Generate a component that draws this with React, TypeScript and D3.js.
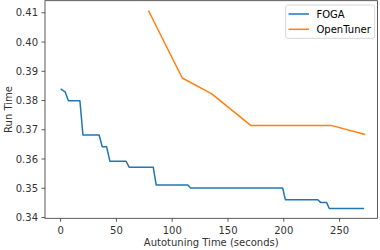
import * as d3 from 'd3';

interface Pt {
  t: number;
  v: number;
}

// FOGA best-so-far run time
const fogaTime = [0, 4, 7, 17.3, 20, 34.5, 37.3, 41.2, 44.2, 58.7, 61.4, 83, 85.7, 114, 116.5, 199, 201.4, 230.5, 233.2, 238.4, 240.8, 272];
const fogaRun = [0.384, 0.383, 0.3799, 0.3799, 0.3682, 0.3682, 0.3642, 0.3642, 0.3592, 0.3592, 0.3572, 0.3572, 0.3511, 0.3511, 0.3501, 0.3501, 0.3461, 0.3461, 0.3451, 0.3451, 0.3431, 0.3431];

// OpenTuner
const otTime = [78.7, 109, 135.5, 170.3, 242.3, 273];
const otRun = [0.4108, 0.3877, 0.3823, 0.3715, 0.3715, 0.3684];

const xTicks = [0, 50, 100, 150, 200, 250];
const yTicks = [0.34, 0.35, 0.36, 0.37, 0.38, 0.39, 0.40, 0.41];

const seriesNames = ['FOGA', 'OpenTuner'];
const colors = ['#1f77b4', '#ff7f0e'];

const toPts = (t: number[], v: number[]): Pt[] => t.map((d, i) => ({ t: d, v: v[i] }));

export default function App() {
  const W = 380;
  const H = 250;
  const left = 45;
  const right = 377.5;
  const top = 0.7;
  const bottom = 218.3;

  const x = d3.scaleLinear().domain([-14, 284]).range([left, right]);
  const y = d3.scaleLinear().domain([0.33973, 0.41414]).range([bottom, top]);

  const line = d3.line<Pt>()
    .x(d => x(d.t))
    .y(d => y(d.v));

  const series = [toPts(fogaTime, fogaRun), toPts(otTime, otRun)];
  const font = 'DejaVu Sans, sans-serif';
  const textColor = '#333';

  return (
    <svg width={W} height={H} style={{ position: 'absolute', left: 0, top: 0 }} fontFamily={font}>
      <rect x={0} y={0} width={W} height={H} fill="#fff" />
      {series.map((s, i) => (
        <path key={i} d={line(s) || ''} fill="none" stroke={colors[i]} strokeWidth={1.5} strokeLinejoin="round" />
      ))}
      <rect x={left} y={top} width={right - left} height={bottom - top} fill="none" stroke="#333" strokeWidth={0.8} />
      {xTicks.map(t => (
        <g key={t} transform={`translate(${x(t)},${bottom})`}>
          <line y2={3.5} stroke="#333" strokeWidth={0.8} />
          <text y={15.5} textAnchor="middle" fontSize={10} fill={textColor}>{t}</text>
        </g>
      ))}
      {yTicks.map(t => (
        <g key={t} transform={`translate(${left},${y(t)})`}>
          <line x2={-3.5} stroke="#333" strokeWidth={0.8} />
          <text x={-7} dy="0.35em" textAnchor="end" fontSize={10} fill={textColor}>{t.toFixed(2)}</text>
        </g>
      ))}
      <text x={(left + right) / 2} y={246} textAnchor="middle" fontSize={10} fill={textColor}>Autotuning Time (seconds)</text>
      <text transform={`translate(12,${(top + bottom) / 2}) rotate(-90)`} textAnchor="middle" fontSize={10} fill={textColor}>Run Time</text>
      <g>
        <rect x={285.7} y={5} width={89} height={33.3} rx={2} fill="#fff" fillOpacity={0.8} stroke="#ccc" strokeWidth={0.8} />
        {seriesNames.map((n, i) => (
          <g key={n} transform={`translate(0,${14 + i * 15.3})`}>
            <line x1={288.5} x2={309} stroke={colors[i]} strokeWidth={1.5} />
            <text x={316.5} dy="0.35em" fontSize={10} fill="#000">{n}</text>
          </g>
        ))}
      </g>
    </svg>
  );
}
